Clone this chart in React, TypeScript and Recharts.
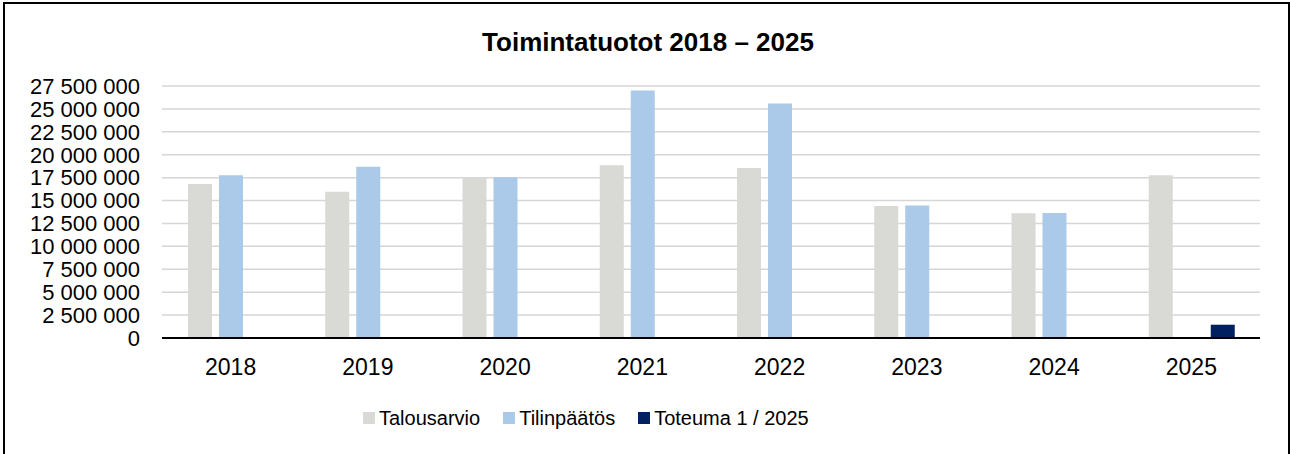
import { BarChart, Bar, XAxis, YAxis, CartesianGrid, Legend } from 'recharts'

const YEARS = ['2018', '2019', '2020', '2021', '2022', '2023', '2024', '2025']
const TALOUSARVIO = [16800000, 15950000, 17450000, 18850000, 18550000, 14400000, 13600000, 17750000]
const TILINPAATOS = [17750000, 18700000, 17550000, 27000000, 25600000, 14450000, 13650000, null]
const TOTEUMA = [null, null, null, null, null, null, null, 1450000]
const Y_TICKS = [0, 2500000, 5000000, 7500000, 10000000, 12500000, 15000000, 17500000, 20000000, 22500000, 25000000, 27500000]

const SERIES = [
  { key: 'talousarvio', name: 'Talousarvio', color: '#d9d9d5' },
  { key: 'tilinpaatos', name: 'Tilinpäätös', color: '#abc9e8' },
  { key: 'toteuma', name: 'Toteuma 1 / 2025', color: '#002060' },
]

const data = YEARS.map((year, i) => ({
  year,
  talousarvio: TALOUSARVIO[i],
  tilinpaatos: TILINPAATOS[i],
  toteuma: TOTEUMA[i],
}))

const FONT = 'Arial, "Liberation Sans", sans-serif'

// spaces as thousand separators, like the Finnish Excel export
const fmt = (v: number) => String(v).replace(/\B(?=(\d{3})+(?!\d))/g, ' ')

function LegendBox() {
  return (
    <div
      style={{
        display: 'flex',
        alignItems: 'center',
        height: 44,
        paddingLeft: 363,
        fontFamily: FONT,
        fontSize: 20,
        color: '#000',
      }}
    >
      {SERIES.map((s) => (
        <div key={s.key} style={{ display: 'flex', alignItems: 'center', marginRight: 23 }}>
          <span style={{ width: 12, height: 12, background: s.color, marginRight: 4, display: 'inline-block' }} />
          <span>{s.name}</span>
        </div>
      ))}
    </div>
  )
}

export default function App() {
  return (
    <div
      style={{
        position: 'absolute',
        left: 0,
        top: 0,
        width: 1290,
        height: 454,
        overflow: 'hidden',
        background: '#fff',
      }}
    >
      <div
        style={{
          position: 'absolute',
          left: 3,
          top: 2,
          width: 1283,
          height: 470,
          border: '2px solid #000',
        }}
      />
      <div
        style={{
          position: 'absolute',
          left: 0,
          top: 27,
          width: 1296,
          textAlign: 'center',
          fontFamily: FONT,
          fontWeight: 'bold',
          fontSize: 26,
          lineHeight: '30px',
          color: '#000',
        }}
      >
        Toimintatuotot 2018 – 2025
      </div>
      <div style={{ position: 'absolute', left: 0, top: 0 }}>
        <BarChart
          width={1290}
          height={454}
          data={data}
          margin={{ top: 86, right: 30, left: 12, bottom: 14 }}
          barSize={24}
          barGap={7}
        >
          <CartesianGrid vertical={false} stroke="#d6d6d6" strokeWidth={1.5} />
          <XAxis
            dataKey="year"
            height={58}
            tickSize={0}
            tickMargin={21}
            axisLine={{ stroke: '#000', strokeWidth: 2 }}
            tick={{ fontSize: 23, fill: '#000', fontFamily: FONT }}
          />
          <YAxis
            width={150}
            domain={[0, 27500000]}
            ticks={Y_TICKS}
            interval={0}
            axisLine={false}
            tickLine={false}
            tickSize={0}
            tickMargin={22}
            tickFormatter={fmt}
            tick={{ fontSize: 22, fill: '#000', fontFamily: FONT }}
          />
          <Legend
            verticalAlign="bottom"
            height={44}
            wrapperStyle={{ left: 0, width: 1290 }}
            content={() => <LegendBox />}
          />
          {SERIES.map((s) => (
            <Bar key={s.key} dataKey={s.key} name={s.name} fill={s.color} isAnimationActive={false} />
          ))}
        </BarChart>
      </div>
    </div>
  )
}
